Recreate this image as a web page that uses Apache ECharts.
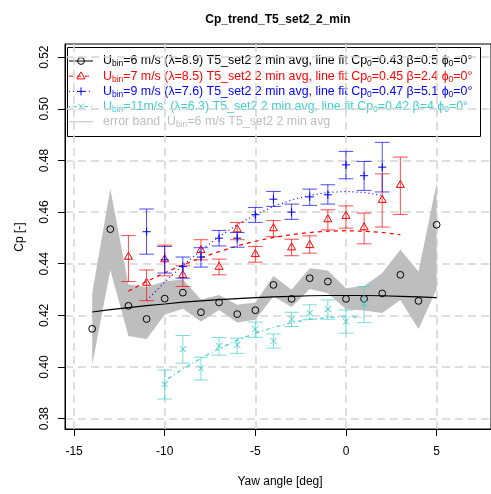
<!DOCTYPE html>
<html><head><meta charset="utf-8">
<script src="https://cdn.jsdelivr.net/npm/echarts@6/dist/echarts.min.js"></script>
<style>html,body{margin:0;padding:0;background:#fff}#c{width:491px;height:494px}</style>
</head><body><div id="c"></div>
<script>
// ---------- data ----------
const xTicks = [-15, -10, -5, 0, 5];
const yTicks = [0.38, 0.40, 0.42, 0.44, 0.46, 0.48, 0.50, 0.52];

// U=6 m/s
const angle6 = [-14,-13,-12,-11,-10,-9,-8,-7,-6,-5,-4,-3,-2,-1,0,1,2,3,4,5];
const cp6 = [0.4148,0.4534,0.4237,0.4186,0.4265,0.4288,0.4212,0.4250,0.4205,0.4220,0.4318,0.4264,0.4344,0.4331,0.4264,0.4264,0.4285,0.4357,0.4256,0.4551];
const fit6 = [0.4213,0.4222,0.4230,0.4238,0.4244,0.4251,0.4256,0.4261,0.4265,0.4269,0.4272,0.4274,0.4276,0.4277,0.4277,0.4277,0.4276,0.4274,0.4272,0.4269];
const band6Upper = [0.4286,0.4689,0.4320,0.4310,0.4331,0.4340,0.4262,0.4279,0.4241,0.4250,0.4353,0.4299,0.4383,0.4374,0.4305,0.4314,0.4364,0.4454,0.4370,0.4712];
const band6Lower = [0.4008,0.4376,0.4120,0.4109,0.4202,0.4226,0.4176,0.4221,0.4172,0.4183,0.4273,0.4232,0.4302,0.4286,0.4224,0.4219,0.4209,0.4260,0.4147,0.4300];

// U=7 m/s
const angle7 = [-12,-11,-10,-9,-8,-7,-6,-5,-4,-3,-2,-1,0,1,2,3];
const cp7 = [0.4428,0.4327,0.4418,0.4357,0.4454,0.4389,0.4534,0.4438,0.4538,0.4464,0.4473,0.4573,0.4586,0.4542,0.4648,0.4706];
const cp7Low = [0.4331,0.4257,0.4353,0.4312,0.4415,0.4357,0.4493,0.4406,0.4505,0.4431,0.4441,0.4531,0.4538,0.4477,0.4542,0.4591];
const cp7High = [0.4509,0.4376,0.4472,0.4392,0.4493,0.4418,0.4560,0.4467,0.4567,0.4495,0.4508,0.4609,0.4624,0.4596,0.4748,0.4813];
const fit7 = [0.4294,0.4331,0.4365,0.4395,0.4423,0.4447,0.4469,0.4487,0.4502,0.4513,0.4521,0.4526,0.4528,0.4526,0.4521,0.4513];

// U=9 m/s
const angle9 = [-11,-10,-9,-8,-7,-6,-5,-4,-3,-2,-1,0,1,2];
const cp9 = [0.4524,0.4415,0.4389,0.4426,0.4499,0.4499,0.4590,0.4650,0.4600,0.4659,0.4667,0.4783,0.4741,0.4774];
const cp9Low = [0.4437,0.4364,0.4344,0.4387,0.4469,0.4464,0.4560,0.4622,0.4572,0.4626,0.4631,0.4729,0.4684,0.4678];
const cp9High = [0.4612,0.4467,0.4426,0.4462,0.4529,0.4521,0.4618,0.4680,0.4631,0.4689,0.4706,0.4835,0.4796,0.4870];
const fit9 = [0.4258,0.4329,0.4393,0.4452,0.4505,0.4551,0.4590,0.4622,0.4647,0.4665,0.4676,0.4680,0.4676,0.4665];

// U=11 m/s
const angle11 = [-10,-9,-8,-7,-6,-5,-4,-3,-2,-1,0,1];
const cp11 = [0.3933,0.4069,0.3995,0.4082,0.4086,0.4147,0.4101,0.4185,0.4209,0.4224,0.4176,0.4245];
const cp11Low = [0.3876,0.4015,0.3950,0.4046,0.4053,0.4115,0.4073,0.4157,0.4185,0.4185,0.4131,0.4172];
const cp11High = [0.3988,0.4122,0.4038,0.4114,0.4112,0.4174,0.4128,0.4212,0.4241,0.4260,0.4221,0.4312];
const fit11 = [0.3946,0.3992,0.4034,0.4071,0.4104,0.4131,0.4154,0.4172,0.4185,0.4192,0.4195,0.4192];

const legendRows = [
  {color:'#000000', dash:'solid', marker:'circle', text:'{n|U}{s|bin}{n|=6 m/s (λ=8.9) T5_set2 2 min avg, line fit Cp}{s|0}{n|=0.43 β=0.5 ϕ}{s|0}{n|=0°}'},
  {color:'#ff0000', dash:[4,4], marker:'triangle', text:'{n|U}{s|bin}{n|=7 m/s (λ=8.5) T5_set2 2 min avg, line fit Cp}{s|0}{n|=0.45 β=2.4 ϕ}{s|0}{n|=0°}'},
  {color:'#0000ff', dash:[1,3], marker:'plus', text:'{n|U}{s|bin}{n|=9 m/s (λ=7.6) T5_set2 2 min avg, line fit Cp}{s|0}{n|=0.47 β=5.1 ϕ}{s|0}{n|=0°}'},
  {color:'#40d0cc', dash:[1,3,4,3], marker:'cross', text:'{n|U}{s|bin}{n|=11m/s  (λ=6.3) T5_set2 2 min avg, line fit Cp}{s|0}{n|=0.42 β=4 ϕ}{s|0}{n|=0°}'},
  {color:'#bebebe', dash:'solid', marker:null, text:'{n|error band  U}{s|bin}{n|=6 m/s T5_set2 2 min avg}'}
];

// ---------- helpers ----------
const FONT = '"Liberation Sans", Arial, sans-serif';
function markerEl(kind, cx, cy, color) {
  const st = {stroke: color, fill: 'none', lineWidth: 1};
  if (kind === 'circle') return {type:'circle', shape:{cx, cy, r:3.4}, style:st};
  if (kind === 'triangle') return {type:'polygon', shape:{points:[[cx, cy-4.3],[cx-4, cy+2.7],[cx+4, cy+2.7]]}, style:st};
  if (kind === 'plus') return {type:'group', children:[
    {type:'line', shape:{x1:cx-4, y1:cy, x2:cx+4, y2:cy}, style:st},
    {type:'line', shape:{x1:cx, y1:cy-4, x2:cx, y2:cy+4}, style:st}]};
  if (kind === 'cross') return {type:'group', children:[
    {type:'line', shape:{x1:cx-3, y1:cy-3, x2:cx+3, y2:cy+3}, style:st},
    {type:'line', shape:{x1:cx-3, y1:cy+3, x2:cx+3, y2:cy-3}, style:st}]};
  return {type:'group', children:[]};
}
function pointSeries(name, xs, ys, lo, hi, color, kind) {
  return {
    type:'custom', name, z:6, clip:true,
    data: xs.map((x,i) => lo ? [x, ys[i], lo[i], hi[i]] : [x, ys[i]]),
    encode:{x:0, y:1},
    renderItem(params, api) {
      const x = api.value(0);
      const pc = api.coord([x, api.value(1)]);
      const children = [];
      if (lo) {
        const pl = api.coord([x, api.value(2)]);
        const ph = api.coord([x, api.value(3)]);
        const w = 7.3;
        const es = {stroke: color, lineWidth: 1, opacity: 0.7};
        children.push({type:'line', shape:{x1:pc[0], y1:pl[1], x2:pc[0], y2:ph[1]}, style:es});
        children.push({type:'line', shape:{x1:pc[0]-w, y1:pl[1], x2:pc[0]+w, y2:pl[1]}, style:es});
        children.push({type:'line', shape:{x1:pc[0]-w, y1:ph[1], x2:pc[0]+w, y2:ph[1]}, style:es});
      }
      children.push(markerEl(kind, pc[0], pc[1], color));
      return {type:'group', children};
    }
  };
}
function fitSeries(name, xs, ys, color, dash) {
  return {type:'line', name, z:4, data: xs.map((x,i)=>[x, ys[i]]), showSymbol:false, symbol:'none',
    lineStyle:{color, width:1.2, type:dash}, silent:true, animation:false};
}

// ---------- chart ----------
const chart = echarts.init(document.getElementById('c'), null, {renderer:'canvas'});

const LF = 12.4;
const legendChildren = [{type:'rect', shape:{x:67.5, y:47.5, width:413, height:89}, style:{fill:'#fff', stroke:'#000', lineWidth:1}}];
legendRows.forEach((r, i) => {
  const y = 61 + i * 15.2;
  legendChildren.push({type:'line', shape:{x1:69, y1:y, x2:93, y2:y}, style:{stroke:r.color, lineWidth:1, lineDash: r.dash === 'solid' ? null : r.dash}});
  if (r.marker) legendChildren.push(markerEl(r.marker, 81, y, r.color));
  legendChildren.push({type:'text', x:103, y:y, style:{
    text:r.text, fill:r.color, font:LF + 'px ' + FONT, textVerticalAlign:'middle', verticalAlign:'middle',
    rich:{n:{fontSize:LF, fontFamily:FONT, fill:r.color, lineHeight:15},
          s:{fontSize:8.5, fontFamily:FONT, fill:r.color, lineHeight:9, verticalAlign:'bottom'}}}});
});

chart.setOption({
  animation:false,
  backgroundColor:'#fff',
  grid:{left:65, top:44, width:431, height:385, show:true, borderColor:'#000', borderWidth:1, containLabel:false},
  xAxis:{type:'value', min:-15.5, max:8,
    axisLine:{show:true, onZero:false, lineStyle:{color:'#000', width:1}},
    axisTick:{show:true, customValues:xTicks, length:7, lineStyle:{color:'#000'}},
    axisLabel:{customValues:xTicks, margin:17, color:'#000', fontSize:12, fontFamily:FONT, formatter:v=>String(v)},
    splitLine:{show:true, lineStyle:{color:'#d3d3d3', width:1.5, type:[8,5]}}},
  yAxis:{type:'value', min:0.376, max:0.5251,
    axisLine:{show:true, onZero:false, lineStyle:{color:'#000', width:1}},
    axisTick:{show:true, customValues:yTicks, length:7, lineStyle:{color:'#000'}},
    axisLabel:{customValues:yTicks, margin:14, rotate:90, color:'#000', fontSize:12, fontFamily:FONT, formatter:v=>v.toFixed(2)},
    splitLine:{show:true, lineStyle:{color:'#d3d3d3', width:1.5, type:[8,5]}}},
  graphic:[
    {type:'text', x:278, y:20, style:{text:'Cp_trend_T5_set2_2_min', font:'bold 12px ' + FONT, fill:'#000', textAlign:'center', textVerticalAlign:'middle'}},
    {type:'text', x:280, y:482, style:{text:'Yaw angle [deg]', font:'12px ' + FONT, fill:'#000', textAlign:'center', textVerticalAlign:'middle'}},
    {type:'text', x:20, y:237, rotation:Math.PI/2, style:{text:'Cp [-]', font:'12px ' + FONT, fill:'#000', textAlign:'center', textVerticalAlign:'middle'}},
    {type:'group', z:100, children:legendChildren}
  ],
  series:[
    {type:'custom', name:'band', z:2, silent:true,
      data: angle6.map((x,i)=>[x, band6Lower[i], band6Upper[i]]),
      encode:{x:0, y:[1,2]},
      renderItem(params, api) {
        if (params.dataIndex !== 0) return null;
        const up = angle6.map((x,i)=>api.coord([x, band6Upper[i]]));
        const lo = angle6.map((x,i)=>api.coord([x, band6Lower[i]])).reverse();
        return {type:'polygon', shape:{points: up.concat(lo)}, style:{fill:'#bebebe', stroke:null}};
      }},
    fitSeries('fit6', angle6, fit6, '#000000', 'solid'),
    fitSeries('fit7', angle7, fit7, '#ff0000', [4,4]),
    fitSeries('fit9', angle9, fit9, '#0000ff', [1,3]),
    fitSeries('fit11', angle11, fit11, '#40d0cc', [1,3,4,3]),
    pointSeries('U6', angle6, cp6, null, null, '#000000', 'circle'),
    pointSeries('U7', angle7, cp7, cp7Low, cp7High, '#ff0000', 'triangle'),
    pointSeries('U9', angle9, cp9, cp9Low, cp9High, '#0000ff', 'plus'),
    pointSeries('U11', angle11, cp11, cp11Low, cp11High, '#40d0cc', 'cross')
  ]
});
</script></body></html>
